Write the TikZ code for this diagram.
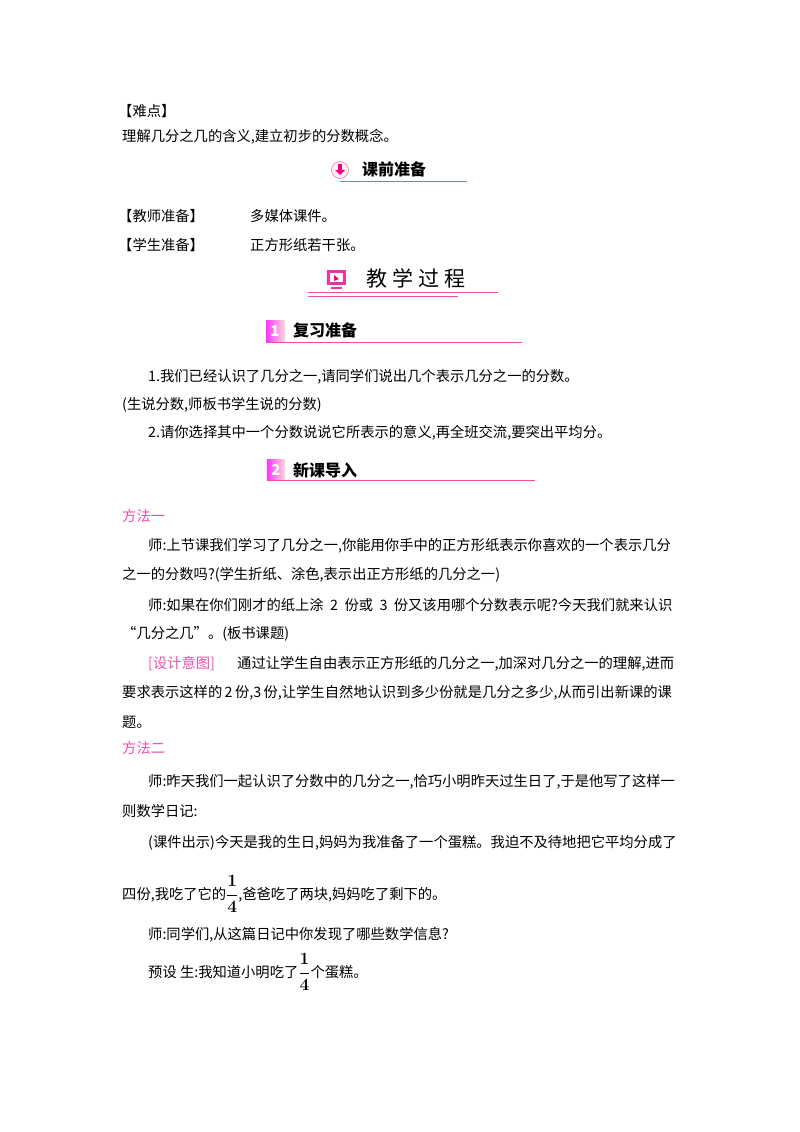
\documentclass[tikz,border=0pt]{standalone}
\usepackage{fontspec}
\setmainfont{Noto Sans CJK SC}
\usepackage{amsmath}
\usetikzlibrary{calc}
\newcommand{\bigfrac}{{\fontsize{17}{17}\selectfont$\boldsymbol{\dfrac{1}{4}}$}}
\begin{document}
\begin{tikzpicture}[x=1pt,y=-1pt,
  txt/.style={anchor=west,inner sep=0pt,font=\fontsize{14.3}{16}\selectfont},
  mag/.style={txt,text=magenta!70},
  hd/.style={anchor=west,inner sep=0pt,font=\fontsize{16}{18}\selectfont\bfseries},
  uline/.style={draw=magenta!60!pink,line width=0.8pt}]
\useasboundingbox (0,0) rectangle (800,1132);
\fill[white] (0,0) rectangle (800,1132);
\node[txt] (n1) at (118,111) {【难点】};
\node[txt] (n2) at (122,137) {理解几分之几的含义,建立初步的分数概念。};
% header 1
\node[circle,draw=magenta!70,fill=pink!30,minimum size=17pt,inner sep=0pt] (i1) at (340,170) {};
\fill[magenta] ($(i1)+(-2,-6)$) rectangle ($(i1)+(2,0)$);
\fill[magenta] ($(i1)+(-5,0)$) -- ($(i1)+(5,0)$) -- ($(i1)+(0,5)$) -- cycle;
\node[hd] (h1) at (362,169) {课前准备};
\draw[uline] (340,181) -- (467,181);
\node[txt] (t1) at (118,216) {【教师准备】};
\node[txt] (t1b) at (250,216) {多媒体课件。};
\node[txt] (t2) at (118,245) {【学生准备】};
\node[txt] (t2b) at (250,245) {正方形纸若干张。};
% header 2
\fill[magenta!80] (327,270) rectangle (346,285);
\fill[white] (330,273) rectangle (343,282);
\fill[magenta!80] (331,287) rectangle (342,289);
\fill[magenta] (334,275) -- (334,281) -- (339,279) -- cycle;
\node[anchor=west,inner sep=0pt,font=\fontsize{21}{22}\selectfont] (h2) at (366,278) {教\hspace{5pt}学\hspace{5pt}过\hspace{5pt}程};
\draw[uline] (308,292) -- (498,292);
\draw[uline] (308,296) -- (458,296);
% header 3
\shade[left color=magenta!80,right color=pink!60] (266,320) rectangle (285,342);
\node[font=\bfseries\itshape\fontsize{15}{15}\selectfont,text=white,inner sep=0pt] (b1) at (275,331) {1};
\node[hd] (h3) at (293,330) {复习准备};
\draw[uline] (266,342) -- (522,342);
\node[txt] (p1) at (148,377) {1.我们已经认识了几分之一,请同学们说出几个表示几分之一的分数。};
\node[txt] (p2) at (122,405) {(生说分数,师板书学生说的分数)};
\node[txt] (p3) at (148,433) {2.请你选择其中一个分数说说它所表示的意义,再全班交流,要突出平均分。};
% header 4
\shade[left color=magenta!80,right color=pink!60] (267,459) rectangle (285,480);
\node[font=\bfseries\itshape\fontsize{15}{15}\selectfont,text=white,inner sep=0pt] (b2) at (276,470) {2};
\node[hd] (h4) at (293,470) {新课导入};
\draw[uline] (267,480) -- (535,480);
\node[mag] (m1) at (122,516) {方法一};
\node[txt] (q1) at (148,546) {师:上节课我们学习了几分之一,你能用你手中的正方形纸表示你喜欢的一个表示几分};
\node[txt] (q2) at (122,575) {之一的分数吗?(学生折纸、涂色,表示出正方形纸的几分之一)};
\node[txt] (q3) at (148,605) {师:如果在你们刚才的纸上涂\ \ 2\ \ 份或\ \ 3\ \ 份又该用哪个分数表示呢?今天我们就来认识};
\node[txt] (q4) at (122,634) {“几分之几”。(板书课题)};
\node[mag] (d1) at (148,664) {[设计意图]};
\node[txt] (q5) at (237,664) {通过让学生自由表示正方形纸的几分之一,加深对几分之一的理解,进而};
\node[txt] (q6) at (122,693) {要求表示这样的\,2\,份,3\,份,让学生自然地认识到多少份就是几分之多少,从而引出新课的课};
\node[txt] (q7) at (122,722) {题。};
\node[mag] (m2) at (122,748) {方法二};
\node[txt] (r1) at (148,782) {师:昨天我们一起认识了分数中的几分之一,恰巧小明昨天过生日了,于是他写了这样一};
\node[txt] (r2) at (122,811) {则数学日记:};
\node[txt] (r3) at (148,843) {(课件出示)今天是我的生日,妈妈为我准备了一个蛋糕。我迫不及待地把它平均分成了};
\node[txt] (r4) at (122,894) {四份,我吃了它的\bigfrac,爸爸吃了两块,妈妈吃了剩下的。};
\node[txt] (r5) at (148,935) {师:同学们,从这篇日记中你发现了哪些数学信息?};
\node[txt] (r6) at (148,972) {预设\ 生:我知道小明吃了\bigfrac 个蛋糕。};
\end{tikzpicture}
\end{document}
